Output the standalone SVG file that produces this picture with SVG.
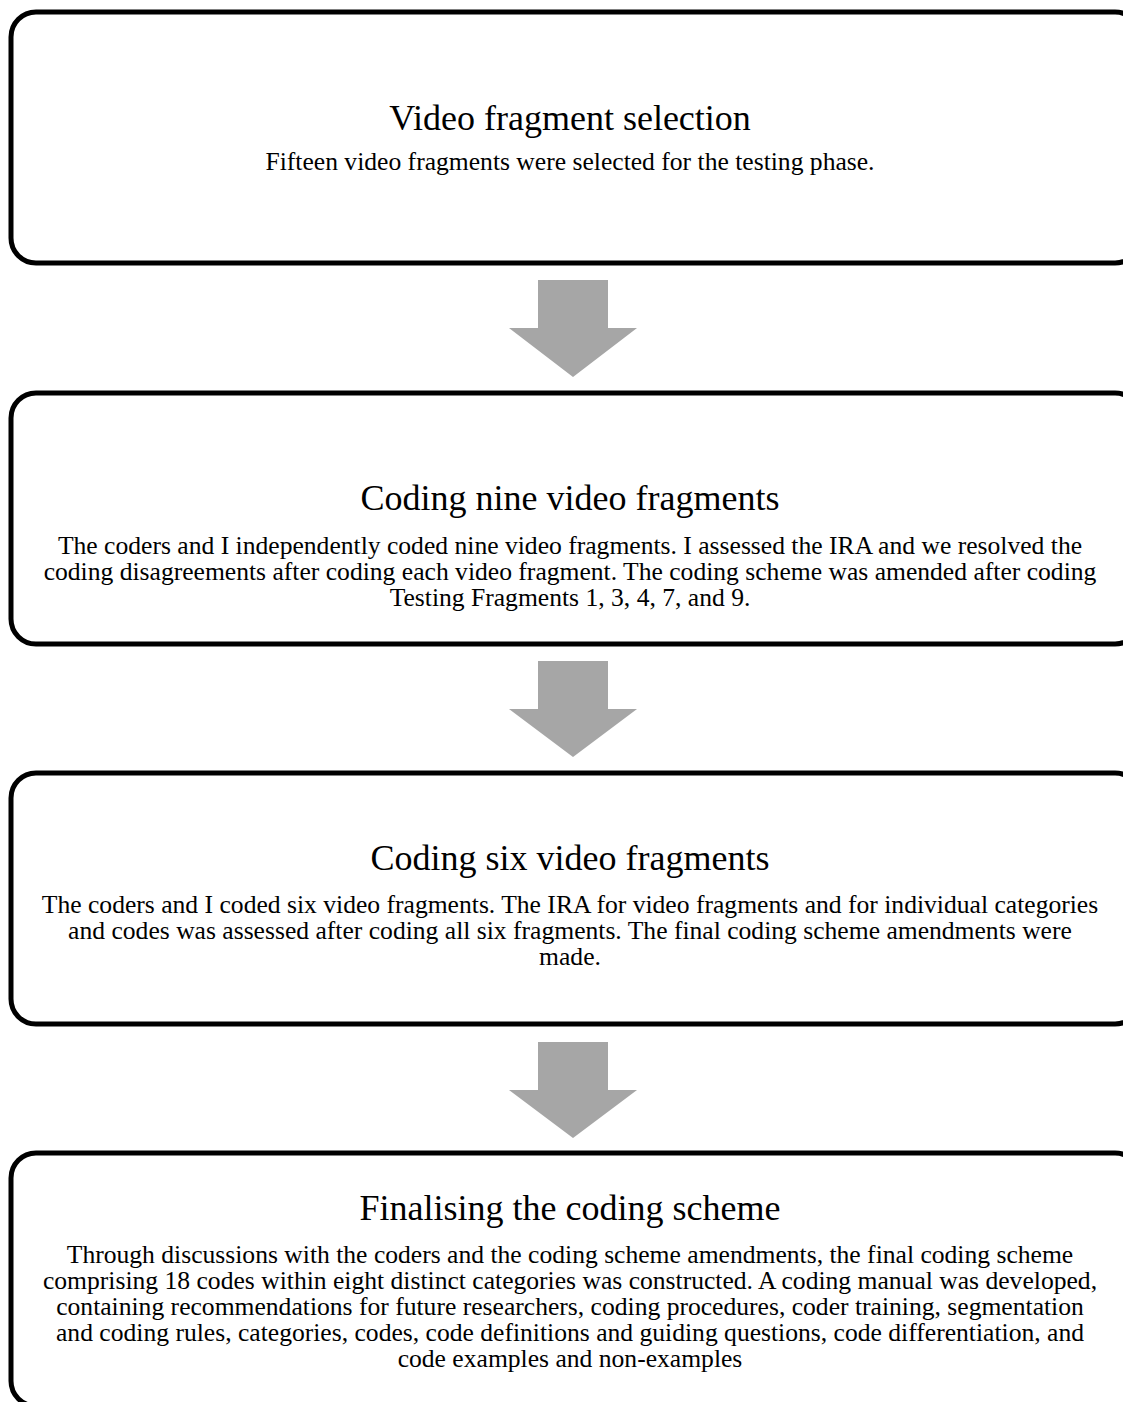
<svg xmlns="http://www.w3.org/2000/svg" width="1123" height="1402" viewBox="0 0 1123 1402">
  <style>
    .box { fill: #ffffff; stroke: #000000; stroke-width: 5; }
    .arrow { fill: #a6a6a6; }
    .title { font-family: "Liberation Serif", "Times New Roman", serif; font-size: 36px; fill: #000; text-anchor: middle; }
    .body { font-family: "Liberation Serif", "Times New Roman", serif; font-size: 25.6px; fill: #000; text-anchor: middle; }
  </style>
  <rect width="1123" height="1402" fill="#ffffff"/>

  <g id="connectors">
    <polygon class="arrow" points="538,280 608,280 608,328 637,328 573,377 509,328 538,328"/>
    <polygon class="arrow" points="538,661 608,661 608,709 637,709 573,757 509,709 538,709"/>
    <polygon class="arrow" points="538,1042 608,1042 608,1090 637,1090 573,1138 509,1090 538,1090"/>
  </g>

  <g id="node-selection">
    <rect class="box" x="11" y="12" width="1129" height="251" rx="25" ry="25"/>
    <text class="title" x="570" y="130">Video fragment selection</text>
    <text class="body" x="570" y="170">Fifteen video fragments were selected for the testing phase.</text>
  </g>

  <g id="node-coding-nine">
    <rect class="box" x="11" y="393" width="1129" height="251" rx="25" ry="25"/>
    <text class="title" x="570" y="510">Coding nine video fragments</text>
    <text class="body" x="570" y="554">The coders and I independently coded nine video fragments. I assessed the IRA and we resolved the</text>
    <text class="body" x="570" y="580">coding disagreements after coding each video fragment. The coding scheme was amended after coding</text>
    <text class="body" x="570" y="606">Testing Fragments 1, 3, 4, 7, and 9.</text>
  </g>

  <g id="node-coding-six">
    <rect class="box" x="11" y="773" width="1129" height="251" rx="25" ry="25"/>
    <text class="title" x="570" y="870">Coding six video fragments</text>
    <text class="body" x="570" y="913">The coders and I coded six video fragments. The IRA for video fragments and for individual categories</text>
    <text class="body" x="570" y="939">and codes was assessed after coding all six fragments. The final coding scheme amendments were</text>
    <text class="body" x="570" y="965">made.</text>
  </g>

  <g id="node-finalising">
    <rect class="box" x="11" y="1153" width="1129" height="253" rx="25" ry="25"/>
    <text class="title" x="570" y="1220">Finalising the coding scheme</text>
    <text class="body" x="570" y="1263">Through discussions with the coders and the coding scheme amendments, the final coding scheme</text>
    <text class="body" x="570" y="1289">comprising 18 codes within eight distinct categories was constructed. A coding manual was developed,</text>
    <text class="body" x="570" y="1315">containing recommendations for future researchers, coding procedures, coder training, segmentation</text>
    <text class="body" x="570" y="1341">and coding rules, categories, codes, code definitions and guiding questions, code differentiation, and</text>
    <text class="body" x="570" y="1367">code examples and non-examples</text>
  </g>
</svg>
